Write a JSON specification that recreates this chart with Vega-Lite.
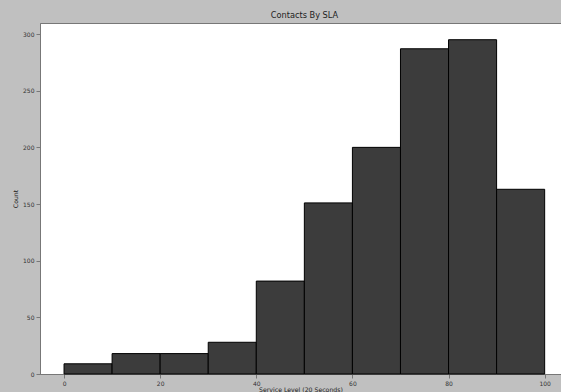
{
  "$schema": "https://vega.github.io/schema/vega-lite/v6.json",
  "width": 521,
  "height": 351,
  "autosize": {"type": "none"},
  "padding": {"left": 40, "top": 23, "right": 0, "bottom": 18},
  "background": "#c0c0c0",
  "title": {"text": "Contacts By SLA", "font": "DejaVu Sans", "fontSize": 8.2, "fontWeight": "normal", "color": "#222222", "offset": 3, "dx": 4},
  "config": {
    "view": {"fill": "white", "stroke": "#777777", "strokeWidth": 1},
    "axis": {
      "labelFont": "DejaVu Sans", "titleFont": "DejaVu Sans",
      "labelFontSize": 6, "titleFontSize": 6.2, "titleFontWeight": "normal",
      "labelColor": "#333333", "titleColor": "#222222",
      "domainColor": "#777777", "tickColor": "#777777", "tickSize": 4,
      "labelPadding": 2, "grid": false
    }
  },
  "data": {"values": [
    {"bin_start": 0, "bin_end": 10, "count": 9},
    {"bin_start": 10, "bin_end": 20, "count": 18},
    {"bin_start": 20, "bin_end": 30, "count": 18},
    {"bin_start": 30, "bin_end": 40, "count": 28},
    {"bin_start": 40, "bin_end": 50, "count": 82},
    {"bin_start": 50, "bin_end": 60, "count": 151},
    {"bin_start": 60, "bin_end": 70, "count": 200},
    {"bin_start": 70, "bin_end": 80, "count": 287},
    {"bin_start": 80, "bin_end": 90, "count": 295},
    {"bin_start": 90, "bin_end": 100, "count": 163}
  ]},
  "mark": {"type": "rect", "color": "#3c3c3c", "stroke": "#000000", "strokeWidth": 1},
  "encoding": {
    "x": {"field": "bin_start", "type": "quantitative", "scale": {"domain": [-5, 103.4], "nice": false, "zero": false},
      "axis": {"values": [0, 20, 40, 60, 80, 100], "title": "Service Level (20 Seconds)", "titlePadding": 0}},
    "x2": {"field": "bin_end"},
    "y": {"field": "count", "type": "quantitative", "scale": {"domain": [0, 309.75], "nice": false},
      "axis": {"values": [0, 50, 100, 150, 200, 250, 300], "title": "Count", "titlePadding": 4}}
  }
}
